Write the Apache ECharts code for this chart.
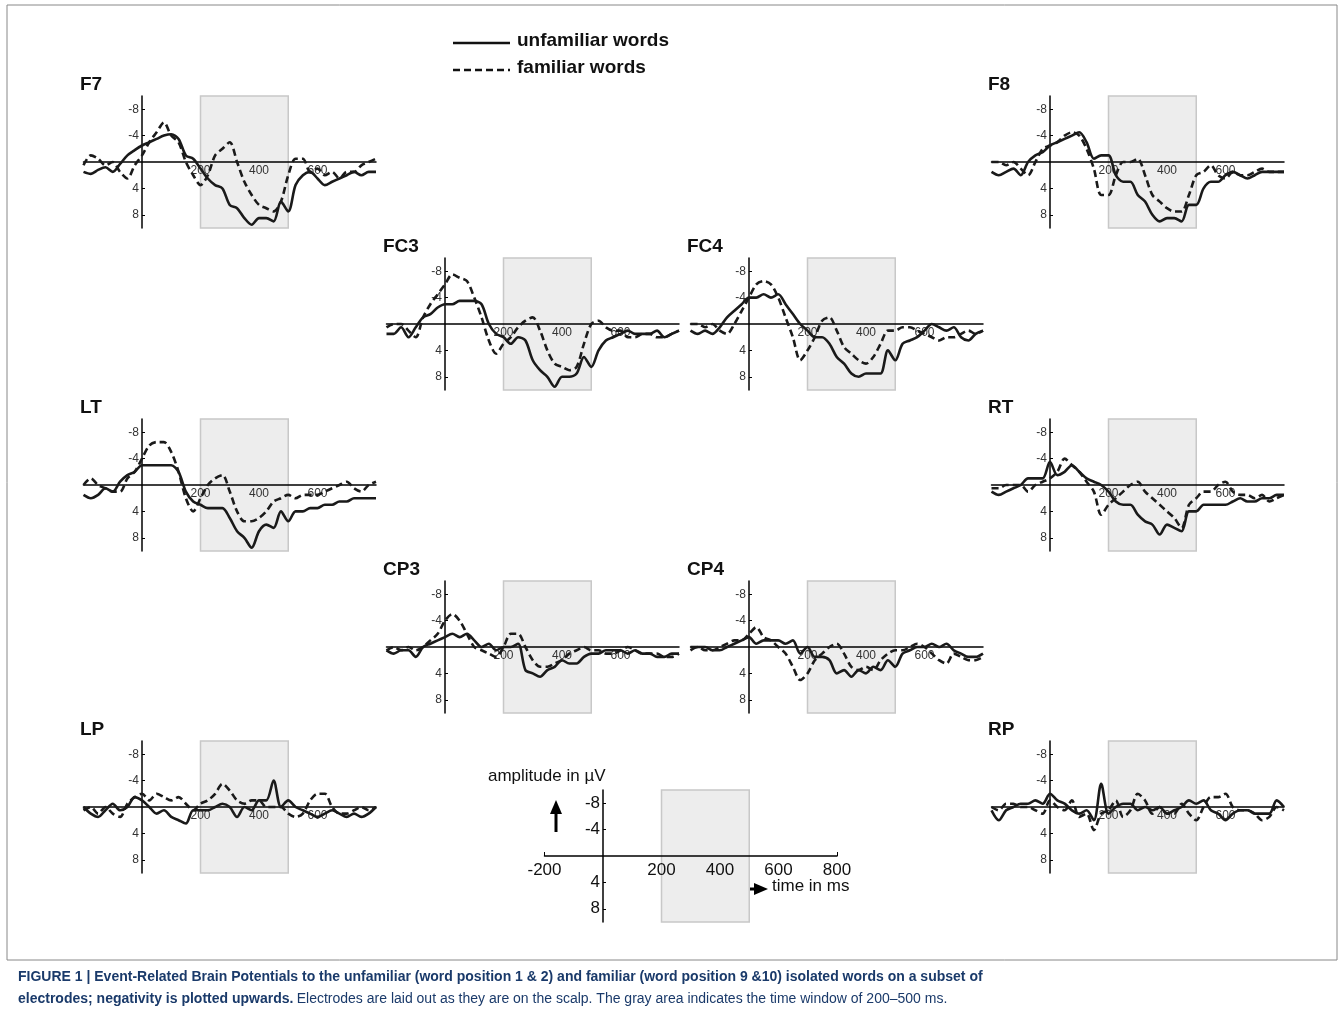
<!DOCTYPE html>
<html><head><meta charset="utf-8">
<script src="https://cdn.jsdelivr.net/npm/echarts@6/dist/echarts.min.js"></script>
<style>html,body{margin:0;padding:0;background:#fff}#c{width:1344px;height:1019px}</style>
</head><body><div id="c"></div>
<script>
const times = [];
for (let t = -200; t <= 800; t += 25) times.push(t);
const electrodes = ['F7','F8','FC3','FC4','LT','RT','CP3','CP4','LP','RP'];
const unfamiliar = {
 F7:[1.5,1.8,1.2,0.8,1.5,0.3,-1.0,-1.8,-2.5,-3.0,-3.5,-4.0,-4.2,-3.5,-1.0,-0.5,1.0,2.5,3.5,4.0,6.5,7.0,8.5,9.5,8.5,8.5,9.0,6.0,7.5,3.5,2.0,1.5,2.5,3.5,3.0,2.5,2.0,1.5,2.0,1.5,1.5],
 F8:[1.5,2.0,1.5,1.0,2.0,0,-1.0,-1.5,-2.5,-3.0,-3.5,-4.0,-4.5,-3.0,-0.5,-1,-1,2,3,3,5,6,8,9,8.5,8.5,9,6.5,6.5,4,3,3,2,1.5,2,2.5,2,1.5,1.5,1.5,1.5],
 FC3:[1.5,1.5,0.5,2,0.5,-1,-1.5,-2.5,-3,-3,-3.5,-3.5,-3.5,-3.0,0,1.5,2,3,2,2.5,5.5,7,8,9.5,8,8,7.5,5,6.5,4,2.5,2,1.5,1,1.5,1.5,1.5,1,2,1.5,1.0],
 FC4:[1,1.5,1,1.5,0.5,-1,-2,-3,-4,-4,-4.5,-4,-4.5,-3,-1.5,0,1,2,2,3,5,6,7.5,8,7.5,7.5,7.5,4,5.5,3,2.5,2,1,0,0.5,1,0.5,2,2.5,1.5,1],
 LT:[1.5,2,1.5,0.5,1,-0.5,-1.5,-2,-3,-3,-3,-3,-3,-2,1,2.5,3,3.5,3.5,3.5,5,7,8,9.5,7,6,6.5,4,5.5,4,4,3.5,3.5,3,3,2.5,2.5,2,2,2,2],
 RT:[1,1.5,1,0.5,0,-1,-1,-1,-3.5,-1.5,-2,-3,-2,-1,-0.5,0,1,2.5,3,3,4.5,5.5,6,7.5,6,6.5,7,4,4,3,3,3,3,2.5,2,2.5,2.5,2,2,1.5,1.5],
 CP3:[0.5,1,0.5,0.5,1.5,0,-0.5,-1,-1.5,-2,-1.5,-2,-1,0,-0.5,0.5,0,0,-0.5,3.5,4,4.5,3.5,3,2,2.5,2.5,1.5,1,1,0.5,0.5,0.5,1,0.5,1,1,1.5,1.5,1,1],
 CP4:[0.5,0,0,0.5,0.5,0,-0.5,-1,-1.5,-0.5,-1,-1,-1,-0.5,-1,1,0,1.5,1.5,2,4,3.5,4.5,3.5,4,3,3.5,2,3,1,0.5,0,0,-0.5,0,-0.5,0.5,1,1.5,1.5,1],
 LP:[0,1,1.5,0.5,-0.5,0.5,0,-1.5,-1,0,1,0.5,1.5,2,2.5,0.5,0.5,0.5,0,-0.5,0,1.5,0,0.5,-1,-1,-4,0,-1,0,0.5,1,1.5,1,0.5,1,1.5,1,1.5,1,0],
 RP:[0.5,2,0.5,0,-0.5,-0.5,-1,-0.5,-2,-1,-0.5,0.5,1,0.5,2,-3.5,1,0,-0.5,-0.5,0.5,0,0.5,0,1,0.5,0,-1,-0.5,-1,0.5,1,2,1,0.5,0.5,1,1,1,-1,0]
};
const familiar = {
 F7:[0.5,-1,-0.5,0.5,0,1.5,2.5,0.5,-1,-3,-4.5,-6,-4,-3,0,2,3.5,2,-1,-2,-3,0,3,5,6.5,7,7.5,6,2,-0.5,-0.5,1.5,1,2,1.5,2.5,1.5,1.5,0.5,0,-0.5],
 F8:[0,0,0.5,0,1,2,0,-2,-2.5,-3,-4,-4.5,-4,-2,1,5,5,2,0,0,-0.5,2,5,6,7,7.5,7.5,5,2,1.5,0.5,2,2.5,1.5,2,2,1.5,1,1.5,1.5,1.5],
 FC3:[0.5,0,0,1,2,-1,-3,-4.5,-6,-7.5,-7,-6.5,-4,-1,2.5,4.5,3,2,0.5,-0.5,-1,1,4,6,6.5,7,6.5,3,0,-0.5,0.5,1,1,2,2,1.5,1.5,2,2,1.5,1],
 FC4:[0,0,0.5,0,1,1.5,0,-2,-4,-6,-6.5,-6,-4,-1,2,5.5,4,2,-0.5,-1,1,3.5,4.5,5.5,6,5,3,1,1,0.5,0.5,1,1.5,2,2.5,2,2,1.5,1,1.5,1],
 LT:[0,-1,0,0.5,1,1,-1,-2,-4,-6,-6.5,-6.5,-5,-2,2,4,2,0,-1,-1.5,1,4,5.5,5.5,5,4,2.5,2,1.5,2,1.5,1.5,1.5,1,0.5,0,-0.5,0.5,1,0,-0.5],
 RT:[0.5,0.5,0,0,0,1,0,-0.5,-1,-2,-4,-3,-2,-0.5,1,4.5,3,2,1,0,-0.5,1,2,3,4,5,6.5,3,2,1,1,0,-0.5,1,1.5,1.5,2,1.5,2.5,2,1.5],
 CP3:[0.5,0,0.5,0,0.5,0,-1,-2,-4,-5,-4,-2,0,0.5,1,1.5,0,-2,-2,0,2,3,3,2.5,2,1,0.5,0,0.5,0.5,1,1,0.5,0,0.5,1,1,1,1.5,1.5,1],
 CP4:[0,0,0.5,0.5,0,-0.5,-1,-1,-2,-3,-1.5,-1,0,1,3,5,4,2,1,0,-0.5,1,3,3.5,3,3.5,2,1,0.5,0.5,0,-0.5,0,1,2,2.5,1,1.5,2,2,1.5],
 LP:[0.5,0,1,0,1,1.5,-0.5,-1.5,-2,-1,-2,-1.5,-1,-1.5,-0.5,0.5,-0.5,-1,-2,-3.5,-2.5,-1,-0.5,-1,-1,0,0,0,1,1.5,1,-1,-2,-2,0,1,1,0.5,0,0.5,0],
 RP:[0,0.5,-0.5,-0.5,0,0,0.5,1,-1,0,0.5,-1,1.5,1,3.5,1,0.5,-1,1.5,0.5,-2,-1,1,0,1,1,-0.5,1,2,0,-1.5,-1.5,-2,0,0.5,0.5,1,2,1.5,0,0.5]
};
const yTicks = [-8,-4,4,8];
const xTicksPanel = [200,400,600];
const xTicksScale = [-200,200,400,600,800];
const windowMs = [200,500];

const origins = {F7:[142,162],F8:[1050,162],FC3:[445,324],FC4:[749,324],LT:[142,485],RT:[1050,485],CP3:[445,647],CP4:[749,647],LP:[142,807],RP:[1050,807]};
const pxPerMs = 58.5/200, pxPerUV = 6.6;

const grids=[],xAxes=[],yAxes=[],series=[],graphics=[];
function addPanel(idx, ox, oy, scale, name){
  const left = ox - 200*pxPerMs, top = oy - 10*pxPerUV;
  grids.push({left:left, top:top, width:1000*pxPerMs, height:20*pxPerUV});
  const fs = scale?17:12;
  const col = scale?'#111':'#333';
  xAxes.push({type:'value',gridIndex:idx,min:-200,max:800,position:'bottom',offset:-10*pxPerUV,z:2,
    axisLine:{onZero:false,lineStyle:{color:'#000',width:1.5}},
    axisTick:{show:scale,customValues:[-200,800],length:4,inside:true,lineStyle:{color:'#000'}},
    axisLabel:{customValues:scale?xTicksScale:xTicksPanel,color:col,fontSize:fs,margin:scale?6:3,fontFamily:'Liberation Sans'},
    splitLine:{show:false}});
  yAxes.push({type:'value',gridIndex:idx,min:-10,max:10,inverse:true,position:'left',offset:-200*pxPerMs,z:2,
    axisLine:{onZero:false,lineStyle:{color:'#000',width:1.5}},
    axisTick:{show:true,customValues:yTicks,length:3,inside:true,lineStyle:{color:'#000'}},
    axisLabel:{customValues:yTicks,color:col,fontSize:fs,margin:3,fontFamily:'Liberation Sans'},
    splitLine:{show:false}});
  const area = {silent:true,itemStyle:{color:'#ededed',borderColor:'#c8c8c8',borderWidth:1.5},
    data:[[{xAxis:windowMs[0],yAxis:-10},{xAxis:windowMs[1],yAxis:10}]]};
  series.push({type:'line',xAxisIndex:idx,yAxisIndex:idx,data:[],markArea:area,z:1});
  if(scale) return;
  series.push({type:'line',xAxisIndex:idx,yAxisIndex:idx,showSymbol:false,smooth:0.3,
    data:times.map((t,i)=>[t,unfamiliar[name][i]]),lineStyle:{color:'#1a1a1a',width:2.6},z:3});
  series.push({type:'line',xAxisIndex:idx,yAxisIndex:idx,showSymbol:false,smooth:0.3,
    data:times.map((t,i)=>[t,familiar[name][i]]),lineStyle:{color:'#1a1a1a',width:2.6,type:[7,4]},z:3});
  graphics.push({type:'text',left:ox-62,top:oy-87,style:{text:name,font:'bold 19px Liberation Sans',fill:'#111'}});
}
electrodes.forEach((e,i)=>addPanel(i,origins[e][0],origins[e][1],false,e));
addPanel(electrodes.length,603,856,true,'');

graphics.push(
 {type:'rect',shape:{x:7,y:5,width:1330,height:955},style:{fill:'none',stroke:'#888',lineWidth:1}},
 {type:'line',shape:{x1:453,y1:43,x2:510,y2:43},style:{stroke:'#111',lineWidth:2.6}},
 {type:'line',shape:{x1:453,y1:70,x2:510,y2:70},style:{stroke:'#111',lineWidth:2.6,lineDash:[7,4]}},
 {type:'text',left:517,top:31,style:{text:'unfamiliar words',font:'bold 19px Liberation Sans',fill:'#111'}},
 {type:'text',left:517,top:58,style:{text:'familiar words',font:'bold 19px Liberation Sans',fill:'#111'}},
 {type:'text',left:488,top:768,style:{text:'amplitude in µV',font:'17px Liberation Sans',fill:'#111'}},
 {type:'line',shape:{x1:556,y1:832,x2:556,y2:812},style:{stroke:'#000',lineWidth:3}},
 {type:'polygon',shape:{points:[[550,814],[562,814],[556,800]]},style:{fill:'#000'}},
 {type:'line',shape:{x1:733,y1:889,x2:756,y2:889},style:{stroke:'#000',lineWidth:3}},
 {type:'polygon',shape:{points:[[754,883],[754,895],[768,889]]},style:{fill:'#000'}},
 {type:'text',left:772,top:878,style:{text:'time in ms',font:'17px Liberation Sans',fill:'#111'}},
 {type:'text',left:18,top:970,style:{text:'{b|FIGURE 1 | Event-Related Brain Potentials to the unfamiliar (word position 1 & 2) and familiar (word position 9 &10) isolated words on a subset of}\n{b|electrodes; negativity is plotted upwards.} {n|Electrodes are laid out as they are on the scalp. The gray area indicates the time window of 200–500 ms.}',
   rich:{b:{font:'bold 14px Liberation Sans',fill:'#1a3a6a',lineHeight:22},n:{font:'14px Liberation Sans',fill:'#1a3a6a',lineHeight:22}}}}
);

const chart = echarts.init(document.getElementById('c'));
chart.setOption({animation:false,grid:grids,xAxis:xAxes,yAxis:yAxes,series:series,graphic:graphics});
</script></body></html>
